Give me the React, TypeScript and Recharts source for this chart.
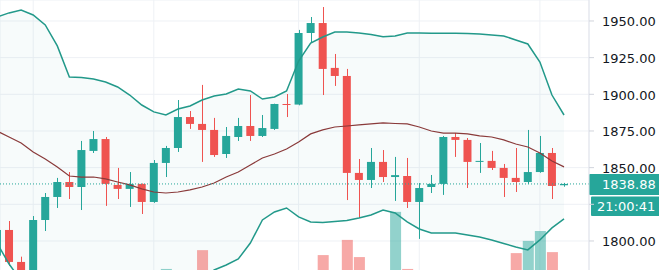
import React from "react"
import { ComposedChart, Bar, Line, Area, XAxis, YAxis, CartesianGrid, ReferenceLine } from "recharts"

const GREEN = "#26a69a"
const RED = "#ef5350"

// candle index; -1 is the one cut off at the left edge
const idx = [
  -1, 0, 1, 2, 3, 4, 5, 6, 7, 8, 9,
  10, 11, 12, 13, 14, 15, 16, 17, 18, 19,
  20, 21, 22, 23, 24, 25, 26, 27, 28, 29,
  30, 31, 32, 33, 34, 35, 36, 37, 38, 39,
  40, 41, 42, 43, 44, 45, 46,
]

// OHLC
const opens = [
  1790.0, 1807.5, 1785.7, 1770.0, 1814.3, 1830.0, 1840.2, 1836.8, 1861.4, 1869.5, 1838.2,
  1835.5, 1838.9, 1826.6, 1853.2, 1863.4, 1884.5, 1879.8, 1875.7, 1859.3, 1870.9,
  1878.4, 1871.6, 1876.4, 1893.4, 1893.0, 1941.8, 1948.6, 1918.0, 1912.5, 1846.4,
  1841.6, 1853.9, 1843.6, 1844.3, 1826.6, 1836.8, 1838.9, 1870.9, 1868.9, 1853.9,
  1854.6, 1849.8, 1843.0, 1840.2, 1847.0, 1860.0, 1838.0,
]
const highs = [
  1809.0, 1813.6, 1789.3, 1817.0, 1832.7, 1843.0, 1847.0, 1868.2, 1875.0, 1870.9, 1849.8,
  1847.0, 1839.2, 1855.2, 1864.8, 1896.1, 1888.6, 1906.4, 1883.9, 1877.7, 1883.9,
  1899.5, 1885.9, 1893.6, 1900.2, 1943.9, 1952.7, 1959.5, 1927.5, 1917.3, 1855.9,
  1863.4, 1862.0, 1857.3, 1856.6, 1839.5, 1845.0, 1871.6, 1873.6, 1870.2, 1866.8,
  1861.4, 1852.5, 1863.4, 1875.7, 1871.6, 1863.4, 1839.6,
]
const lows = [
  1786.0, 1783.0, 1765.0, 1768.0, 1806.8, 1822.5, 1828.6, 1821.1, 1860.0, 1823.9, 1828.6,
  1823.2, 1818.4, 1826.0, 1843.6, 1860.7, 1876.4, 1853.9, 1857.3, 1856.6, 1868.2,
  1868.2, 1870.9, 1875.7, 1884.5, 1892.5, 1935.0, 1899.5, 1905.7, 1827.9, 1815.7,
  1836.1, 1840.2, 1827.3, 1822.5, 1801.4, 1832.7, 1831.4, 1857.3, 1836.1, 1846.4,
  1848.4, 1830.0, 1833.4, 1838.9, 1846.5, 1828.6, 1837.0,
]
const closes = [
  1807.5, 1785.7, 1770.0, 1814.3, 1830.0, 1840.2, 1836.8, 1862.0, 1869.5, 1838.9, 1835.5,
  1838.9, 1826.6, 1853.2, 1863.4, 1884.5, 1879.8, 1875.7, 1858.6, 1871.6, 1878.4,
  1871.6, 1877.0, 1893.4, 1893.0, 1941.8, 1948.6, 1917.3, 1912.5, 1846.4, 1841.6,
  1853.9, 1843.6, 1844.9, 1826.6, 1836.1, 1838.9, 1870.9, 1868.9, 1853.9, 1854.6,
  1849.8, 1843.0, 1840.2, 1847.0, 1860.0, 1837.5, 1838.88,
]
const volumes = [
  130, 150, 120, 160, 110, 90, 70, 140, 80, 130, 60,
  75, 95, 150, 185, 165, 90, 242, 150, 100, 70,
  120, 65, 110, 80, 175, 120, 227, 140, 273, 221,
  170, 130, 358, 185, 160, 90, 175, 85, 140, 70,
  90, 120, 233, 270, 300, 236, 40,
]

// Bollinger bands
const upperBand = [
  1952.7, 1955.5, 1957.5, 1954.1, 1947.3, 1933.0, 1911.8, 1911.5, 1910.5, 1908.4, 1905.0,
  1899.5, 1892.7, 1888.0, 1885.9, 1890.0, 1892.0, 1896.1, 1898.9, 1900.2, 1903.6,
  1902.3, 1896.8, 1898.2, 1902.3, 1922.7, 1935.0, 1939.1, 1942.5, 1942.5, 1941.8,
  1940.8, 1939.3, 1939.8, 1941.8, 1941.8, 1941.6, 1941.6, 1941.6, 1941.5, 1941.1,
  1940.5, 1939.8, 1937.0, 1934.3, 1922.0, 1899.5, 1885.9,
]
const middleBand = [
  1875.0, 1870.9, 1866.8, 1860.7, 1855.9, 1850.5, 1844.3, 1843.6, 1843.6, 1842.3, 1840.2,
  1838.2, 1835.5, 1833.4, 1832.7, 1833.4, 1834.8, 1836.8, 1839.5, 1843.6, 1847.0,
  1851.8, 1856.6, 1859.3, 1862.7, 1867.5, 1873.0, 1875.7, 1877.7, 1878.4, 1879.1,
  1879.8, 1880.5, 1880.1, 1879.8, 1877.7, 1875.0, 1873.6, 1873.6, 1873.0, 1871.6,
  1870.9, 1868.9, 1866.1, 1864.1, 1860.0, 1854.5, 1850.5,
]
const lowerBand = [
  1798.6, 1784.3, 1773.0, 1763.9, 1761.1, 1764.5, 1773.4, 1772.4, 1773.4, 1772.7, 1772.0,
  1773.4, 1774.8, 1775.5, 1776.1, 1773.4, 1774.1, 1774.1, 1780.2, 1783.6, 1787.7,
  1798.6, 1814.3, 1819.8, 1822.5, 1816.4, 1813.0, 1812.6, 1813.3, 1814.0, 1815.7,
  1817.7, 1821.1, 1819.1, 1813.0, 1808.2, 1805.5, 1805.5, 1805.5, 1804.1, 1802.7,
  1800.7, 1798.3, 1795.9, 1793.9, 1800.7, 1808.9, 1815.0,
]

const priceTicks = [1800, 1825, 1850, 1875, 1900, 1925, 1950]
const timeGridAt = [2, 12, 24, 34, 44]
const lastPrice = 1838.88
const clockLabel = "21:00:41"

const data = idx.map((i, k) => ({
  i,
  open: opens[k],
  high: highs[k],
  low: lows[k],
  close: closes[k],
  volume: volumes[k],
  upper: upperBand[k],
  middle: middleBand[k],
  lower: lowerBand[k],
}))

const FONT = "DejaVu Sans, sans-serif"

const Candle = (props: any) => {
  const { x, y, width, height, payload } = props
  const { open, close, high, low } = payload
  const color = close >= open ? GREEN : RED
  const top = Math.min(y, y + height)
  const h = Math.abs(height)
  const ratio = high > low ? h / (high - low) : 0
  const bodyTop = top + (high - Math.max(open, close)) * ratio
  const bodyBottom = top + (high - Math.min(open, close)) * ratio
  const cx = Math.round(x + width / 2) + 0.5
  return (
    <g>
      <line x1={cx} x2={cx} y1={top} y2={top + h} stroke={color} strokeWidth={1} />
      <rect x={x} y={bodyTop} width={width} height={Math.max(1, bodyBottom - bodyTop)} fill={color} />
    </g>
  )
}

const VolumeBar = (props: any) => {
  const { x, y, width, height, payload } = props
  const up = payload.close >= payload.open
  return <rect x={x} y={y} width={width} height={height} fill={up ? "rgba(38,166,154,0.5)" : "rgba(239,83,80,0.5)"} />
}

const PriceTick = (props: any) => {
  const { x, y, payload } = props
  if (payload.value === 1825) return null // hidden behind the clock tag
  return (
    <text x={x} y={y} dy={5.5} textAnchor="start" fill="#131722" fontSize={13} fontFamily={FONT}>
      {payload.value.toFixed(2)}
    </text>
  )
}

const PriceTag = (props: any) => {
  const { viewBox } = props
  const x = viewBox.x + viewBox.width
  const y = viewBox.y
  return (
    <g fontFamily={FONT} fontSize={13}>
      <rect x={x} y={y - 10} width={80} height={21} fill={GREEN} rx={1} />
      <text x={x + 13} y={y} dy={5.5} fill="#fff">{lastPrice.toFixed(2)}</text>
      <rect x={x + 2} y={y + 12.5} width={80} height={19.5} fill={GREEN} rx={1} />
      <text x={x + 8} y={y + 22} dy={5} fill="#fff">{clockLabel}</text>
    </g>
  )
}

export default function App() {
  return (
    <div style={{ position: "fixed", left: 0, top: 0, width: 659, height: 270, overflow: "hidden", background: "#fff" }}>
      <ComposedChart width={659} height={330} data={data} margin={{ top: 0, right: 0, left: 0, bottom: 0 }}>
        <XAxis xAxisId="p" type="number" dataKey="i" domain={[-0.75, 48.07]} ticks={timeGridAt} allowDataOverflow hide />
        <XAxis xAxisId="v" type="number" dataKey="i" domain={[-0.75, 48.07]} allowDataOverflow hide />
        <YAxis
          yAxisId="p"
          orientation="right"
          domain={[1739.3, 1964.3]}
          ticks={priceTicks}
          interval={0}
          allowDataOverflow
          width={70}
          axisLine={{ stroke: "#e0e3eb" }}
          tickLine={{ stroke: "#d1d4dc" }}
          tickSize={5}
          tickMargin={8}
          tick={<PriceTick />}
        />
        <YAxis yAxisId="v" domain={[0, 1000]} hide allowDataOverflow />
        <CartesianGrid xAxisId="p" yAxisId="p" stroke="#eef1f5" />

        <Area
          xAxisId="p"
          yAxisId="p"
          dataKey={(d: any) => [d.lower, d.upper]}
          fill="rgba(38,150,150,0.06)"
          stroke="none"
          dot={false}
          activeDot={false}
          isAnimationActive={false}
        />
        <Bar xAxisId="v" yAxisId="v" dataKey="volume" barSize={11} shape={<VolumeBar />} isAnimationActive={false} />
        <Line xAxisId="p" yAxisId="p" dataKey="upper" stroke="#22998a" strokeWidth={1.5} dot={false} activeDot={false} isAnimationActive={false} />
        <Line xAxisId="p" yAxisId="p" dataKey="lower" stroke="#22998a" strokeWidth={1.5} dot={false} activeDot={false} isAnimationActive={false} />
        <Line xAxisId="p" yAxisId="p" dataKey="middle" stroke="#8a3a3a" strokeWidth={1.2} dot={false} activeDot={false} isAnimationActive={false} />
        <Bar
          xAxisId="p"
          yAxisId="p"
          dataKey={(d: any) => [d.low, d.high]}
          barSize={8}
          shape={<Candle />}
          isAnimationActive={false}
        />
        <ReferenceLine
          xAxisId="p"
          yAxisId="p"
          y={lastPrice}
          stroke={GREEN}
          strokeDasharray="1 2"
          label={<PriceTag />}
        />
      </ComposedChart>
    </div>
  )
}
